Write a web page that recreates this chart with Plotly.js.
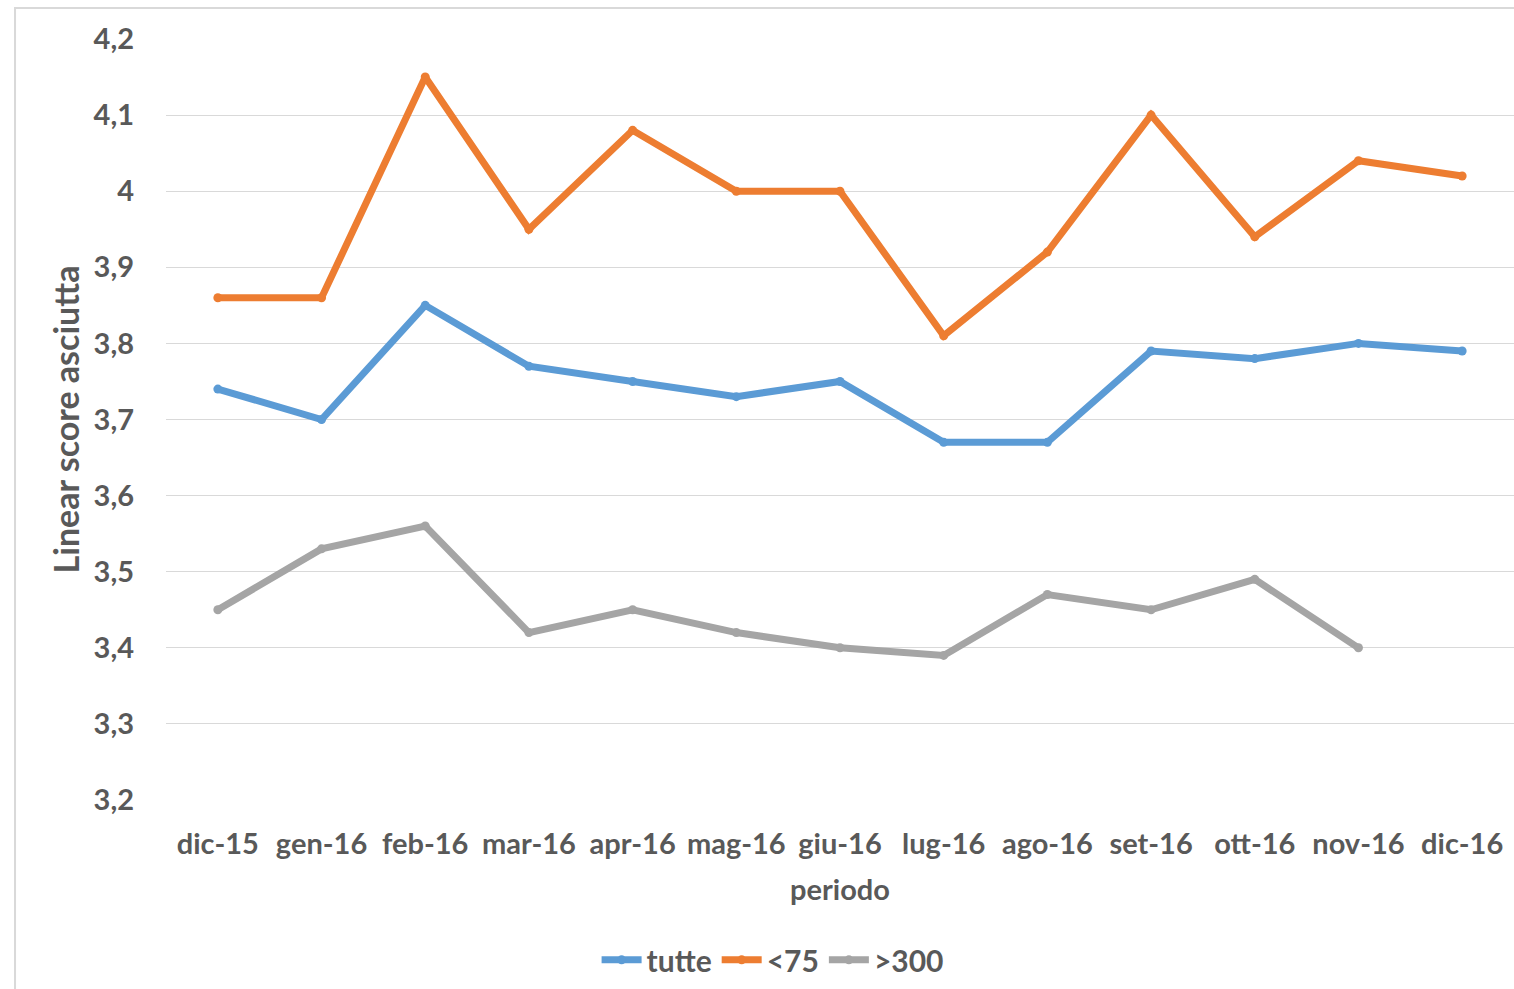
<!DOCTYPE html>
<html>
<head>
<meta charset="utf-8">
<script src="https://cdn.plot.ly/plotly-3.0.1.min.js"></script>
<style>
  body { margin: 0; background: #fff; }
  #chart { width: 1514px; height: 989px; }
</style>
</head>
<body>
<div id="chart"></div>
<script>
// months on the x axis
var periodi = ['dic-15', 'gen-16', 'feb-16', 'mar-16', 'apr-16', 'mag-16', 'giu-16',
               'lug-16', 'ago-16', 'set-16', 'ott-16', 'nov-16', 'dic-16'];

// linear score per series
var tutte = [3.74, 3.70, 3.85, 3.77, 3.75, 3.73, 3.75, 3.67, 3.67, 3.79, 3.78, 3.80, 3.79];
var meno75 = [3.86, 3.86, 4.15, 3.95, 4.08, 4.00, 4.00, 3.81, 3.92, 4.10, 3.94, 4.04, 4.02];
var oltre300 = [3.45, 3.53, 3.56, 3.42, 3.45, 3.42, 3.40, 3.39, 3.47, 3.45, 3.49, 3.40, null];

var txt = '#595959';
var fontFam = 'Lato, "Open Sans", sans-serif';

function serie(nome, valori, colore) {
    return {
        x: periodi,
        y: valori,
        name: nome,
        type: 'scatter',
        mode: 'lines+markers',
        line: { color: colore, width: 7 },
        marker: { color: colore, size: 9 }
    };
}

var traces = [
    serie('tutte', tutte, '#5b9bd5'),
    serie('<75', meno75, '#ed7d31'),
    serie('>300', oltre300, '#a5a5a5')
];

var layout = {
    width: 1514,
    height: 989,
    separators: ',.',
    paper_bgcolor: '#fff',
    plot_bgcolor: '#fff',
    margin: { l: 166, r: 0, t: 39, b: 189 },
    font: { family: fontFam, color: txt, size: 28, weight: 'bold' },
    showlegend: true,
    legend: {
        orientation: 'h',
        x: 0.45, xanchor: 'center',
        y: -0.21, yanchor: 'middle',
        font: { size: 30, color: txt, family: fontFam, weight: 'bold' },
        itemwidth: 40,
        tracegroupgap: 0
    },
    xaxis: {
        type: 'category',
        range: [-0.5, 12.5],
        showgrid: false,
        zeroline: false,
        showline: false,
        ticks: '',
        ticklabelstandoff: 24,
        tickfont: { size: 29, color: txt, family: fontFam, weight: 'bold' },
        title: { text: 'periodo', font: { size: 29, color: txt, family: fontFam, weight: 'bold' }, standoff: 20 }
    },
    yaxis: {
        range: [3.2, 4.2],
        dtick: 0.1,
        showgrid: true,
        gridcolor: '#d9d9d9',
        gridwidth: 1,
        zeroline: false,
        showline: false,
        ticks: '',
        ticklabelstandoff: 31,
        tickfont: { size: 29, color: txt, family: fontFam, weight: 'bold' },
        title: { text: 'Linear score asciutta', font: { size: 34, color: txt, family: fontFam, weight: 'bold' }, standoff: 3 }
    },
    shapes: [{
        type: 'rect',
        xref: 'paper', yref: 'paper',
        x0: -0.112, x1: 1.02, y0: -0.4, y1: 1.0407,
        line: { color: '#d9d9d9', width: 2 },
        fillcolor: 'rgba(0,0,0,0)',
        layer: 'below'
    }]
};

Plotly.newPlot('chart', traces, layout, { displayModeBar: false });
</script>
</body>
</html>
